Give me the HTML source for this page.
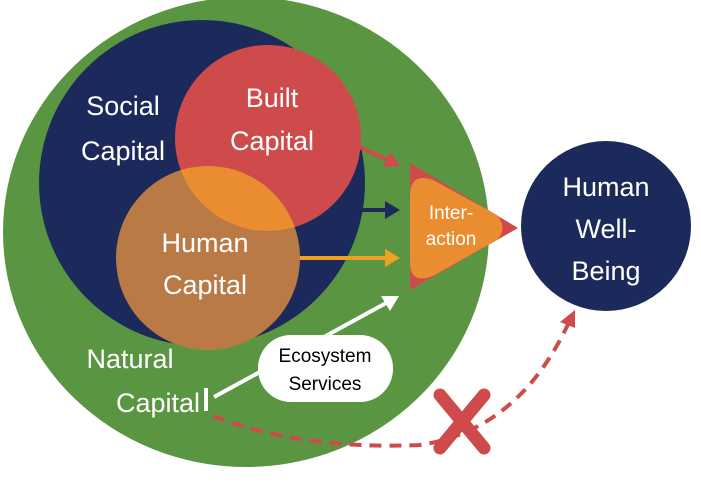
<!DOCTYPE html>
<html><head><style>body{margin:0;background:#fff}svg{display:block}text{font-family:"Liberation Sans",sans-serif}</style></head><body>
<svg width="701" height="487" viewBox="0 0 701 487">
<defs>
<clipPath id="hc"><circle cx="208" cy="258" r="92"/></clipPath>
</defs>
<ellipse cx="246" cy="232" rx="243" ry="235" fill="#5a9642"/>
<circle cx="202" cy="183" r="163" fill="#1b2a5a"/>
<circle cx="268" cy="138" r="93" fill="#cf4a4a"/>
<circle cx="208" cy="258" r="92" fill="#b97a45"/>
<circle cx="268" cy="138" r="93" fill="#ea8d30" clip-path="url(#hc)"/>
<g font-size="27" fill="#fff" text-anchor="middle">
<text x="123" y="115">Social</text><text x="123" y="160">Capital</text>
<text x="272" y="107">Built</text><text x="272" y="150">Capital</text>
<text x="205" y="252">Human</text><text x="205" y="294">Capital</text>
<text x="130" y="368">Natural</text><text x="158" y="412">Capital</text>
</g>
<circle cx="606" cy="226" r="85" fill="#1b2a5a"/>
<g font-size="27" fill="#fff" text-anchor="middle">
<text x="606" y="196">Human</text><text x="606" y="238">Well-</text><text x="606" y="280">Being</text>
</g>
<polygon points="410,163 410,290 518,228" fill="#cf4a4a"/>
<path d="M410,196 Q410,172 433,180 L497,215 Q508,228 497,240 L433,276 Q410,285 410,262 Z" fill="#ea8d30"/>
<text x="451" y="219" font-size="19" fill="#fff" text-anchor="middle">Inter-</text>
<text x="451" y="245" font-size="19" fill="#fff" text-anchor="middle">action</text>
<g stroke-width="4">
<line x1="355" y1="145" x2="388" y2="160" stroke="#cf4a4a"/>
<polygon points="400,166 383,167 390,152" fill="#cf4a4a"/>
<line x1="362" y1="210" x2="386" y2="210" stroke="#1b2a5a"/>
<polygon points="400,210 385,201 385,219" fill="#1b2a5a"/>
<line x1="300" y1="258" x2="386" y2="258" stroke="#f0a020"/>
<polygon points="400,258 385,249 385,267" fill="#f0a020"/>
<line x1="214" y1="397" x2="388" y2="302" stroke="#fff"/>
<polygon points="399,296 381,296 390,311" fill="#fff"/>
<line x1="206" y1="388" x2="206" y2="411" stroke="#fff"/>
</g>
<rect x="258" y="335" width="135" height="67" rx="33" fill="#fff"/>
<text x="325" y="362" font-size="19" fill="#000" text-anchor="middle">Ecosystem</text>
<text x="325" y="390" font-size="19" fill="#000" text-anchor="middle">Services</text>
<path d="M213,416 Q300,450 420,445 Q520,430 570,320" fill="none" stroke="#cf4a4a" stroke-width="4" stroke-dasharray="12,8"/>
<polygon points="575,310 560,322 575,328" fill="#cf4a4a"/>
<g stroke="#cf4a4a" stroke-width="13" stroke-linecap="round">
<line x1="440" y1="395" x2="484" y2="448"/><line x1="484" y1="395" x2="440" y2="448"/>
</g>
</svg>
</body></html>
